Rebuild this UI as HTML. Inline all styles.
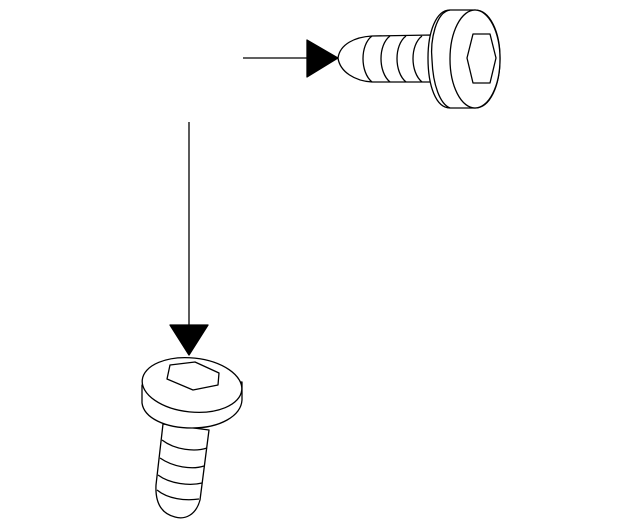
<!DOCTYPE html>
<html><head><style>html,body{margin:0;padding:0;background:#fff}svg{display:block}</style></head><body>
<svg width="640" height="528" viewBox="0 0 640 528" xmlns="http://www.w3.org/2000/svg" fill="#fff" stroke="#000" stroke-width="1.3" stroke-linejoin="round">
<!-- top arrow -->
<line x1="243" y1="58" x2="308" y2="58"/>
<polygon points="307,40 307,77 338,58" fill="#000"/>
<!-- top screw shank -->
<path d="M338,58 C340,44 355,37 372,36 L432,35 L432,82 L372,82 C355,81 340,72 338,58 Z"/>
<path d="M372,36 C360,45 360,72 372,82" fill="none"/>
<path d="M390,36 C378,45 378,72 390,82" fill="none"/>
<path d="M406,36 C394,45 394,72 406,82" fill="none"/>
<path d="M422,36 C410,45 410,72 422,82" fill="none"/>
<!-- top screw head -->
<path d="M450,10 L475,10 C490,10 500,32 500,58 C500,86 490,108 475,108 L450,108 C436,108 428,86 428,58 C428,32 436,10 450,10 Z"/>
<path d="M450,10 C436,12 430,40 432,60 C433,85 440,104 450,108" fill="none"/>
<ellipse cx="475" cy="59" rx="25" ry="49"/>
<polygon points="473,34 490,34 496,58 490,83 473,83 467,58" fill="none"/>
<!-- vertical arrow -->
<line x1="189" y1="122" x2="189" y2="326"/>
<polygon points="170,325 208,325 189,355" fill="#000"/>
<!-- bottom screw shank -->
<path d="M163,424 L209,430 L200,500 C196,515 185,520 175,517 C163,514 155,505 156,485 Z"/>
<path d="M162,440 C175,450 195,452 207,448" fill="none"/>
<path d="M160,458 C173,467 192,470 204,466" fill="none"/>
<path d="M158,475 C170,484 190,486 202,483" fill="none"/>
<path d="M157,490 C168,499 185,501 199,499" fill="none"/>
<!-- bottom screw head -->
<path d="M142,385 L142,403 C144,418 165,428 192,428 C220,428 241,416 242,400 L242,382 Z"/>
<ellipse cx="192" cy="385" rx="50" ry="27" transform="rotate(6 192 385)"/>
<polygon points="170,365 195,362 219,373 218,385 193,390 167,379" fill="none"/>
</svg>
</body></html>
